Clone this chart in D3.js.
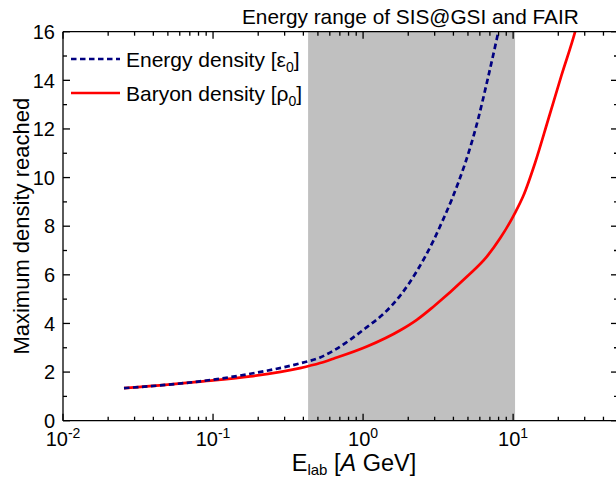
<!DOCTYPE html>
<html>
<head>
<meta charset="utf-8">
<script src="https://cdn.jsdelivr.net/npm/d3@7"></script>
<style>
  html, body { margin: 0; padding: 0; background: #fff; }
  svg { display: block; font-family: "Liberation Sans", Arial, sans-serif; }
</style>
</head>
<body>
<svg id="chart" width="616" height="479"></svg>
<script>
// ---- data ----
const baryonE = [0.0255, 0.05, 0.082, 0.177, 0.38, 0.517, 0.634, 1.06, 1.77, 2.28, 2.94, 4.91, 6.68, 8.19, 10.3, 11.7, 14.0, 17.2, 21.0, 25.9, 27.5];
const baryonDensity = [1.34, 1.48, 1.61, 1.82, 2.16, 2.37, 2.55, 3.05, 3.72, 4.15, 4.69, 5.92, 6.75, 7.5, 8.55, 9.25, 10.6, 12.42, 14.2, 16.0, 16.6];
const energyE = [0.0255, 0.05, 0.082, 0.177, 0.38, 0.517, 0.634, 1.06, 1.37, 1.77, 2.28, 2.94, 3.43, 3.90, 5.87, 6.68, 7.78, 8.5];
const energyDensity = [1.34, 1.48, 1.62, 1.93, 2.36, 2.6, 2.88, 3.85, 4.4, 5.15, 6.15, 7.4, 8.3, 9.1, 12.45, 13.9, 15.7, 16.8];
const shadeRange = [0.43, 10.3];
const xDomain = [0.01, 50];
const yDomain = [0, 16];
const yMajorTicks = [0, 2, 4, 6, 8, 10, 12, 14, 16];
const yMinorTicks = [1, 3, 5, 7, 9, 11, 13, 15];
const xMajorTicks = [0.01, 0.1, 1, 10];
const xTickExponents = ["-2", "-1", "0", "1"];
const legendLabels = [
  { name: "Energy density [", sym: "ε", sub: "0", end: "]" },
  { name: "Baryon density [", sym: "ρ", sub: "0", end: "]" }
];
const titleText = "Energy range of SIS@GSI and FAIR";

// ---- layout ----
const L = 63, R = 618, T = 31.7, B = 420.7;
const svg = d3.select("#chart");
const x = d3.scaleLog().domain(xDomain).range([L, R]);
const y = d3.scaleLinear().domain(yDomain).range([B, T]);

// minor x ticks
const xMinorTicks = [];
for (let dec = -2; dec <= 1; dec++) {
  for (let m = 2; m <= 9; m++) {
    const v = m * Math.pow(10, dec);
    if (v <= xDomain[1]) xMinorTicks.push(v);
  }
}

svg.append("defs").append("clipPath").attr("id", "plotclip")
  .append("rect").attr("x", L).attr("y", T).attr("width", R - L).attr("height", B - T);

// shaded band
svg.append("rect")
  .attr("x", x(shadeRange[0])).attr("y", T)
  .attr("width", x(shadeRange[1]) - x(shadeRange[0]))
  .attr("height", B - T)
  .attr("fill", "#c0c0c0");

// curves
const line = d3.line().x(d => x(d[0])).y(d => y(d[1])).curve(d3.curveMonotoneX);
const g = svg.append("g").attr("clip-path", "url(#plotclip)");
g.append("path")
  .attr("d", line(baryonE.map((e, i) => [e, baryonDensity[i]])))
  .attr("fill", "none").attr("stroke", "#ff0000").attr("stroke-width", 2.7);
g.append("path")
  .attr("d", line(energyE.map((e, i) => [e, energyDensity[i]])))
  .attr("fill", "none").attr("stroke", "#000080").attr("stroke-width", 2.7)
  .attr("stroke-dasharray", "5.5,3.5");

// axes: inward ticks on all four sides
const frame = svg.append("g").attr("stroke", "#000").attr("stroke-width", 1.3);
frame.append("line").attr("x1", L).attr("x2", R).attr("y1", B).attr("y2", B);
frame.append("line").attr("x1", L).attr("x2", R).attr("y1", T).attr("y2", T);
frame.append("line").attr("x1", L).attr("x2", L).attr("y1", T).attr("y2", B);
frame.append("line").attr("x1", R).attr("x2", R).attr("y1", T).attr("y2", B);

const majLen = 7, minLen = 4;
function yTicks(vals, len) {
  vals.forEach(v => {
    frame.append("line").attr("x1", L).attr("x2", L + len).attr("y1", y(v)).attr("y2", y(v));
    frame.append("line").attr("x1", R).attr("x2", R - len).attr("y1", y(v)).attr("y2", y(v));
  });
}
function xTicks(vals, len) {
  vals.forEach(v => {
    frame.append("line").attr("x1", x(v)).attr("x2", x(v)).attr("y1", B).attr("y2", B - len);
    frame.append("line").attr("x1", x(v)).attr("x2", x(v)).attr("y1", T).attr("y2", T + len);
  });
}
yTicks(yMajorTicks, majLen);
yTicks(yMinorTicks, minLen);
xTicks(xMajorTicks, majLen);
xTicks(xMinorTicks, minLen);

// y tick labels
svg.append("g").selectAll("text").data(yMajorTicks).join("text")
  .attr("x", L - 8).attr("y", d => y(d)).attr("dy", "0.36em")
  .attr("text-anchor", "end").attr("font-size", 20).attr("fill", "#000")
  .text(d => d);

// x tick labels
const xl = svg.append("g");
xMajorTicks.forEach((v, i) => {
  const t = xl.append("text").attr("x", x(v)).attr("y", 446)
    .attr("text-anchor", "middle").attr("font-size", 20).attr("fill", "#000");
  t.append("tspan").text("10");
  t.append("tspan").attr("dy", -8).attr("font-size", 14).text(xTickExponents[i]);
});

// axis titles
const xt = svg.append("text").attr("x", 354).attr("y", 471)
  .attr("text-anchor", "middle").attr("font-size", 23.5).attr("fill", "#000");
xt.append("tspan").text("E");
xt.append("tspan").attr("dy", 4).attr("font-size", 15).text("lab");
xt.append("tspan").attr("dy", -4).text(" [");
xt.append("tspan").attr("font-style", "italic").text("A");
xt.append("tspan").text(" GeV]");

svg.append("text")
  .attr("transform", `translate(29,${(T + B) / 2}) rotate(-90)`)
  .attr("text-anchor", "middle").attr("font-size", 22).attr("fill", "#000")
  .text("Maximum density reached");

// title
svg.append("text").attr("x", 242).attr("y", 24)
  .attr("font-size", 20.8).attr("fill", "#000").text(titleText);

// legend
const legY = [59, 93];
const legStyles = [
  { stroke: "#000080", dash: "5.5,3.5" },
  { stroke: "#ff0000", dash: null }
];
legendLabels.forEach((d, i) => {
  const ln = svg.append("line").attr("x1", 71).attr("x2", 120)
    .attr("y1", legY[i]).attr("y2", legY[i])
    .attr("stroke", legStyles[i].stroke).attr("stroke-width", 2.7);
  if (legStyles[i].dash) ln.attr("stroke-dasharray", legStyles[i].dash);
  const t = svg.append("text").attr("x", 126).attr("y", legY[i]).attr("dy", "0.36em")
    .attr("font-size", 21).attr("fill", "#000");
  t.append("tspan").text(d.name + d.sym);
  t.append("tspan").attr("dy", 5).attr("font-size", 14).text(d.sub);
  t.append("tspan").attr("dy", -5).text(d.end);
});
</script>
</body>
</html>
